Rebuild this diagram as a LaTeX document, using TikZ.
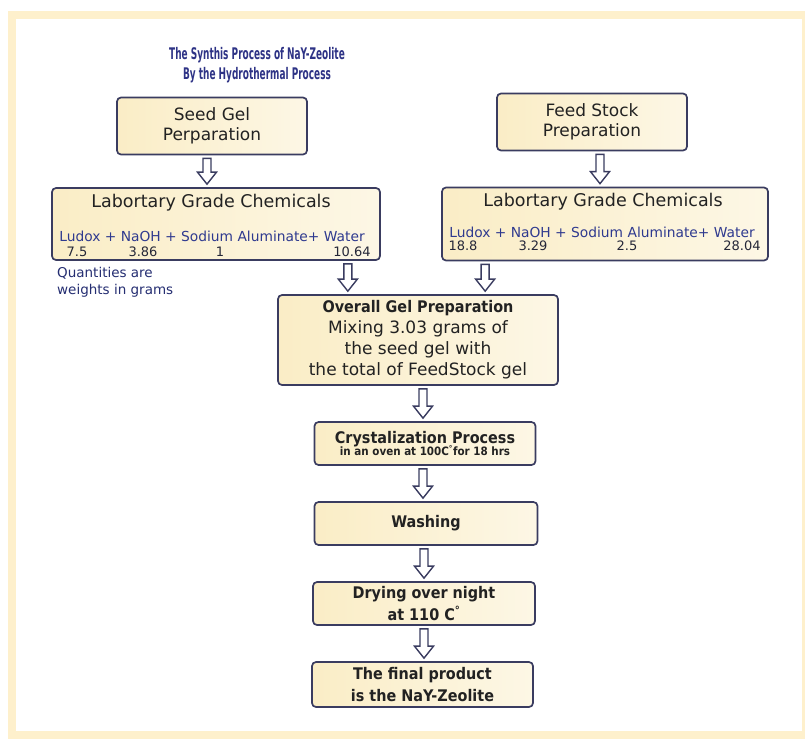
\documentclass[tikz,border=0pt]{standalone}
\usepackage{fontspec}
\setmainfont{DejaVu Sans}
\newfontfamily\narrowfont[FakeStretch=0.9]{DejaVu Sans}
\newfontfamily\titlefont[FakeStretch=0.56]{DejaVu Sans}
\usepackage{tikz}
\usetikzlibrary{calc}
\definecolor{frameCream}{HTML}{FEF0CC}
\definecolor{boxFill}   {HTML}{FAEDC6}
\definecolor{boxLine}   {HTML}{3A3C60}
\definecolor{titleBlue} {HTML}{2E3386}
\definecolor{textDark}  {HTML}{222222}
\definecolor{rowBlue}   {HTML}{2F3A8F}
\tikzset{
  stepbox/.style={draw=boxLine, left color=boxFill, right color=boxFill!45!white,
    rounded corners=4pt, line width=1.7pt, align=center, inner sep=0pt, text=textDark},
  boldtext/.style={font=\narrowfont\bfseries\fontsize{16}{22}\selectfont},
  flowarrow/.style={draw=boxLine, fill=white, line width=1.4pt, line join=miter},
  rowtext/.style={text=rowBlue, font=\fontsize{13.8}{16}\selectfont, inner sep=0pt},
  numtext/.style={text=textDark!80!rowBlue, font=\fontsize{13}{15}\selectfont, inner sep=0pt}
}
% hollow down arrow between two anchors, x taken from the first one
\newcommand{\flowarrow}[2]{%
  \draw[flowarrow] let \p1=(#1), \p2=(#2) in
    (\x1-4pt,\y1-3pt) -- (\x1-4pt,\y2+15pt) -- (\x1-9.5pt,\y2+15pt) -- (\x1,\y2+3pt)
    -- (\x1+9.5pt,\y2+15pt) -- (\x1+4pt,\y2+15pt) -- (\x1+4pt,\y1-3pt) -- cycle;}
\begin{document}
\begin{tikzpicture}[x=1pt,y=-1pt]
  \useasboundingbox (0,0) rectangle (805,740);
  \clip (0,0) rectangle (805,740);
  \fill[white] (0,0) rectangle (805,740);
  \draw[frameCream, line width=8pt] (12,15) rectangle (806,735);

  % title
  \node[text=titleBlue, align=center, font=\titlefont\bfseries\fontsize{16}{20}\selectfont]
    (title) at (257,65) {The Synthis Process of NaY-Zeolite\\By the Hydrothermal Process};

  % the two starting steps
  \node[stepbox, minimum width=190, minimum height=57, font=\fontsize{17}{20}\selectfont]
    (seed) at (212,126) {Seed Gel\\Perparation};
  \node[stepbox, minimum width=190, minimum height=57, font=\fontsize{17}{20}\selectfont]
    (feed) at (592,122) {Feed Stock\\Preparation};

  % chemicals, seed gel side
  \node[stepbox, minimum width=328, minimum height=72] (lchem) at (216,224) {};
  \node[font=\fontsize{17.5}{20}\selectfont, text=textDark, inner sep=0pt] (lhead) at (211,203) {Labortary Grade Chemicals};
  \node[rowtext] (lrow) at (212,236) {Ludox + NaOH + Sodium Aluminate+ Water};
  \node[numtext] (lnA) at (77,252) {7.5};
  \node[numtext] (lnB) at (143,252) {3.86};
  \node[numtext] (lnC) at (220,252) {1};
  \node[numtext] (lnD) at (352,252) {10.64};
  \node[text=rowBlue!80!black, align=left, anchor=north west, inner sep=0pt,
    font=\fontsize{13.5}{17}\selectfont] (qnote) at (57,267) {Quantities are\\weights in grams};

  % chemicals, feed stock side
  \node[stepbox, minimum width=326, minimum height=73] (rchem) at (605,224) {};
  \node[font=\fontsize{17.5}{20}\selectfont, text=textDark, inner sep=0pt] (rhead) at (603,202) {Labortary Grade Chemicals};
  \node[rowtext] (rrow) at (602,232) {Ludox + NaOH + Sodium Aluminate+ Water};
  \node[numtext] (rnA) at (463,246) {18.8};
  \node[numtext] (rnB) at (533,246) {3.29};
  \node[numtext] (rnC) at (627,246) {2.5};
  \node[numtext] (rnD) at (742,246) {28.04};

  % main line
  \node[stepbox, minimum width=280, minimum height=90, font=\fontsize{17}{21}\selectfont]
    (overall) at (418,340) {{\narrowfont\bfseries\fontsize{16}{21}\selectfont Overall Gel Preparation}\\
      Mixing 3.03 grams of\\the seed gel with\\the total of FeedStock gel};
  \node[stepbox, minimum width=221, minimum height=43]
    (crystal) at (425,443.5) {{\narrowfont\bfseries\fontsize{16}{18}\selectfont Crystalization Process}\\[-2pt]
      {\narrowfont\bfseries\fontsize{11.5}{13}\selectfont in an oven at 100C\textsuperscript{°}for 18 hrs}};
  \node[stepbox, boldtext, minimum width=223, minimum height=43]
    (wash) at (426,523.5) {Washing};
  \node[stepbox, boldtext, minimum width=222, minimum height=43]
    (dry) at (424,603.5) {Drying over night\\at 110 C\textsuperscript{°}};
  \node[stepbox, boldtext, minimum width=221, minimum height=45]
    (final) at (422.5,684.5) {The final product\\is the NaY-Zeolite};

  % arrows
  \flowarrow{[xshift=-5pt]seed.south}{lchem.north}
  \flowarrow{[xshift=8pt]feed.south}{rchem.north}
  \flowarrow{[xshift=-33pt]lchem.south east}{overall.north}
  \flowarrow{[xshift=44pt]rchem.south west}{overall.north}
  \flowarrow{[xshift=5pt]overall.south}{crystal.north}
  \flowarrow{[xshift=-2pt]crystal.south}{wash.north}
  \flowarrow{[xshift=-2pt]wash.south}{dry.north}
  \flowarrow{[xshift=0pt]dry.south}{final.north}
\end{tikzpicture}
\end{document}
